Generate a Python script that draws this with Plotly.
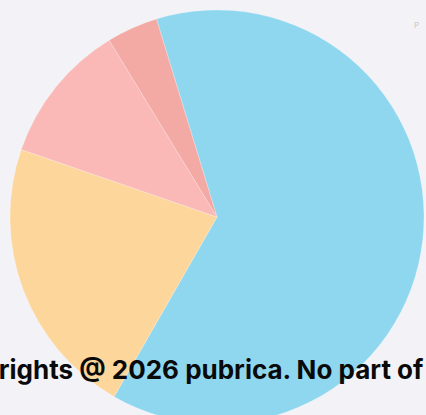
import plotly.graph_objects as go

categories = ["Segment A", "Segment B", "Segment C", "Segment D"]
values = [63, 22, 11, 4]
colors = ["#8fd7ef", "#fdd69b", "#fab9b7", "#f3aaa5"]
watermark = "Copyrights @ 2026 pubrica. No part of this"

W, H = 426, 430
cx, cy, r = 217, 217, 207

fig = go.Figure(go.Pie(
    labels=categories,
    values=values,
    sort=False,
    direction="clockwise",
    rotation=-17,
    marker=dict(colors=colors, line=dict(color="rgba(255,255,255,0.35)", width=0.6)),
    textinfo="none",
    hoverinfo="label+percent",
    showlegend=False,
    domain=dict(x=[(cx - r) / W, (cx + r) / W], y=[(H - cy - r) / H, (H - cy + r) / H]),
))

fig.add_annotation(
    text="<b>" + watermark + "</b>",
    xref="paper", yref="paper",
    x=-70 / W, y=(H - 369) / H,
    xanchor="left", yanchor="middle",
    showarrow=False,
    font=dict(family="Inter", size=26, color="#0a0a0a"),
)
fig.add_annotation(
    text="P", xref="paper", yref="paper",
    x=421 / W, y=(H - 18) / H, showarrow=False,
    font=dict(family="Inter", size=8, color="#c9c9cc"),
)

fig.update_layout(
    width=W, height=H,
    margin=dict(l=0, r=0, t=0, b=0),
    paper_bgcolor="#f3f2f6",
    plot_bgcolor="#f3f2f6",
)

fig.write_html(
    "out.html",
    config={"displayModeBar": False},
    post_script="document.body.style.margin='0';document.body.style.overflow='hidden';document.documentElement.style.overflow='hidden';document.body.style.background='#f3f2f6';",
)
